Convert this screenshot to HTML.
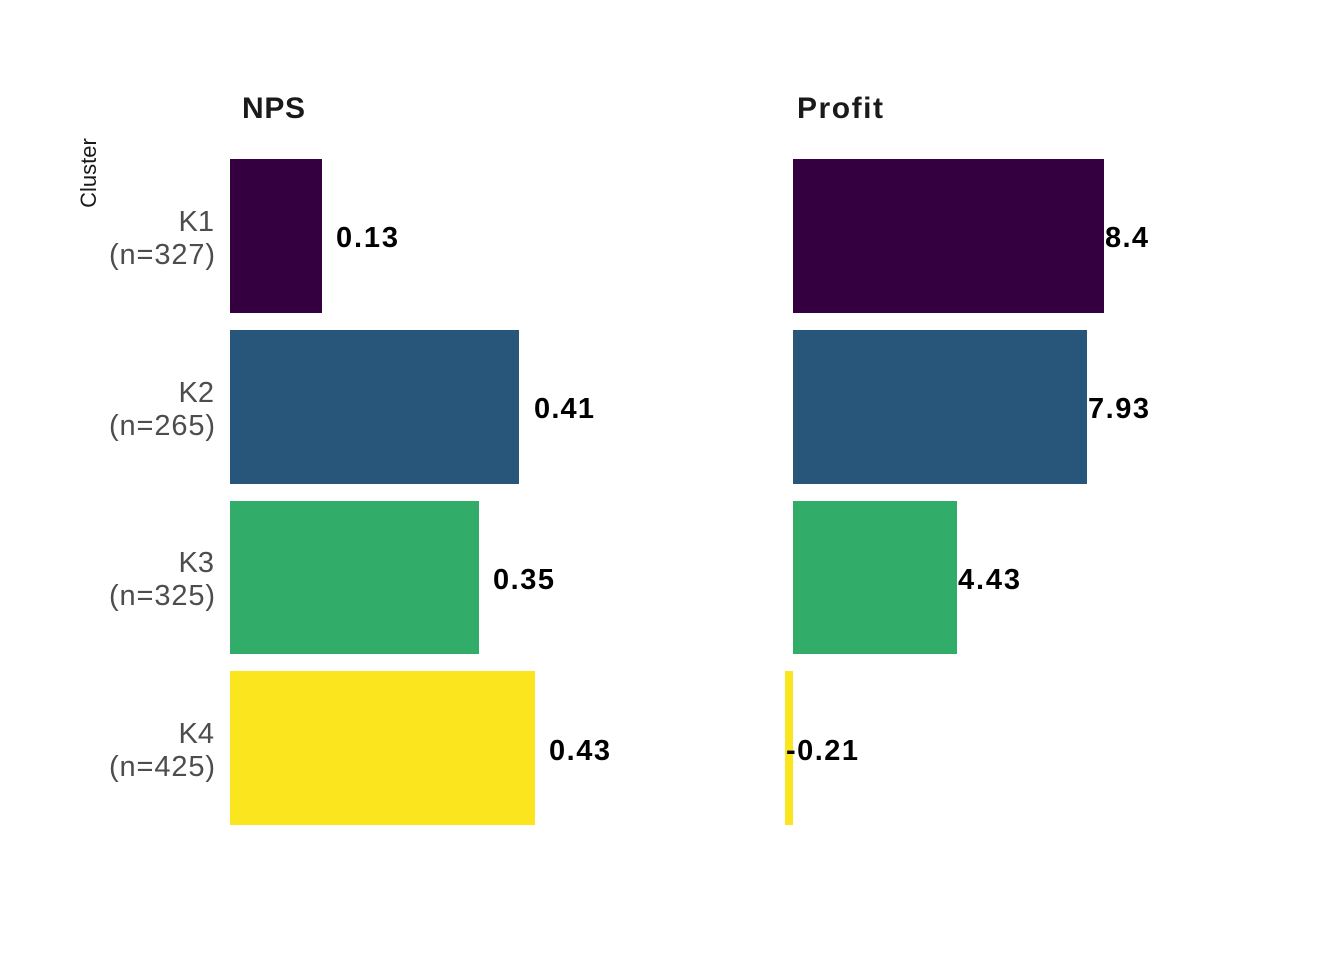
<!DOCTYPE html>
<html><head><meta charset="utf-8"><style>
html,body{margin:0;padding:0;background:#fff}
svg text{font-family:"Liberation Sans","DejaVu Sans",sans-serif}
</style></head><body>
<svg width="1344" height="960" viewBox="0 0 1344 960" xmlns="http://www.w3.org/2000/svg">
<rect width="1344" height="960" fill="#fff"/>
<text x="242" y="118" font-size="30" font-weight="bold" fill="#1a1a1a" textLength="63">NPS</text>
<text x="797" y="118" font-size="30" font-weight="bold" fill="#1a1a1a" textLength="86">Profit</text>
<text transform="translate(96,173) rotate(-90)" text-anchor="middle" font-size="22" fill="#1a1a1a">Cluster</text>
<g font-size="29" fill="#4d4d4d" text-anchor="end">
<text x="214" y="231">K1</text><text x="215" y="264" textLength="106">(n=327)</text>
<text x="214" y="402">K2</text><text x="215" y="435" textLength="106">(n=265)</text>
<text x="214" y="572">K3</text><text x="215" y="605" textLength="106">(n=325)</text>
<text x="214" y="743">K4</text><text x="215" y="776" textLength="106">(n=425)</text>
</g>
<rect x="230" y="159" width="92" height="154" fill="#35003f"/>
<rect x="230" y="330" width="289" height="154" fill="#27567a"/>
<rect x="230" y="501" width="249" height="153" fill="#31ad69"/>
<rect x="230" y="671" width="305" height="154" fill="#fbe51f"/>
<rect x="793" y="159" width="311" height="154" fill="#35003f"/>
<rect x="793" y="330" width="294" height="154" fill="#27567a"/>
<rect x="793" y="501" width="164" height="153" fill="#31ad69"/>
<rect x="785" y="671" width="8" height="154" fill="#fbe51f"/>
<g font-size="29" font-weight="bold" fill="#000">
<text x="336" y="247" textLength="62">0.13</text>
<text x="534" y="418" textLength="60">0.41</text>
<text x="493" y="589" textLength="61">0.35</text>
<text x="549" y="760" textLength="61">0.43</text>
<text x="1105" y="247" textLength="43">8.4</text>
<text x="1088" y="418" textLength="61">7.93</text>
<text x="958" y="589" textLength="62">4.43</text>
<text x="786" y="760" textLength="72">-0.21</text>
</g>
</svg>
</body></html>
